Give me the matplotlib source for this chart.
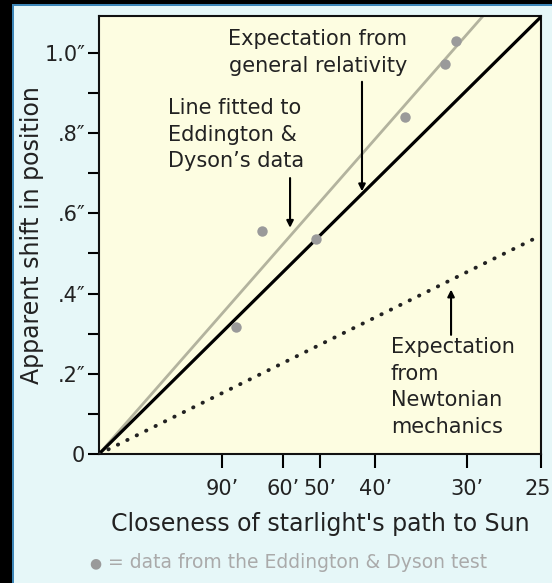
import matplotlib.pyplot as plt
import numpy as np
from matplotlib.patches import Rectangle

# distance of the starlight's path from the Sun (arc minutes) -> closeness = 1/d
tick_minutes = [90, 60, 50, 40, 30, 25]
tick_labels = ["90\u2019", "60\u2019", "50\u2019", "40\u2019", "30\u2019", "25\u2019"]

# apparent shift in arcsec at the right-hand edge (closeness 1/25')
line_x = [0, 1 / 25]
relativity_y = [0, 1.09]
newton_y = [0, 0.545]
fitted_y = [0, 1.257]

# Eddington & Dyson data points
data_x = [0.0124, 0.01475, 0.01964, 0.0277, 0.0313, 0.0323]
data_y = [0.317, 0.556, 0.536, 0.840, 0.973, 1.030]

y_major = [0, 0.2, 0.4, 0.6, 0.8, 1.0]
y_labels = ["0", ".2\u2033", ".4\u2033", ".6\u2033", ".8\u2033", "1.0\u2033"]

W, H = 552, 583
fig = plt.figure(figsize=(W / 100, H / 100), dpi=100)
fig.patch.set_facecolor('#e6f7f8')

# dark frame on the left and top
fig.patches.append(Rectangle((0, 0), 12 / W, 1, transform=fig.transFigure,
                             facecolor='black', edgecolor='none'))
fig.patches.append(Rectangle((0, 1 - 4 / H), 1, 4 / H, transform=fig.transFigure,
                             facecolor='black', edgecolor='none'))
fig.patches.append(Rectangle((12 / W, 0), 1.5 / W, 1 - 4 / H, transform=fig.transFigure,
                             facecolor='#3d86b8', edgecolor='none'))
fig.patches.append(Rectangle((12 / W, 1 - 5.5 / H), 1, 1.5 / H, transform=fig.transFigure,
                             facecolor='#3d86b8', edgecolor='none'))

ax = fig.add_axes([99 / W, (H - 454) / H, (541 - 99) / W, (454 - 16) / H])
ax.set_facecolor('#fdfde1')

ax.plot(line_x, fitted_y, color='#b3b39e', linewidth=2, zorder=2)
ax.plot(line_x, relativity_y, color='black', linewidth=2.3, zorder=3)
ax.plot(line_x, newton_y, color='#222222', linewidth=2.8,
        linestyle=(0, (0.1, 2.6)), dash_capstyle='round', zorder=3)
ax.plot(data_x, data_y, 'o', color='#9a9a9a', markersize=7.5, markeredgewidth=0, zorder=4)

ax.set_xlim(0, 1 / 25)
ax.set_ylim(0, 1.092)

ax.set_xticks([1 / m for m in tick_minutes])
ax.set_xticklabels(tick_labels, fontsize=15, color='#222222')
ax.set_yticks(y_major)
ax.set_yticklabels(y_labels, fontsize=15, color='#222222')
ax.set_yticks(np.arange(0.1, 1.1, 0.2), minor=True)

for s in ax.spines.values():
    s.set_linewidth(1.5)
    s.set_color('#111111')
ax.tick_params(axis='x', direction='out', length=10, width=1.5, pad=8)
ax.tick_params(axis='y', which='both', direction='out', length=8, width=1.5, pad=2)

ax.set_ylabel("Apparent shift in position", fontsize=17, color='#222222', labelpad=0)
ax.set_xlabel("Closeness of starlight's path to Sun", fontsize=17, color='#222222', labelpad=9)

txt = dict(fontsize=15, color='#222222', linespacing=1.42)
arrow = dict(arrowstyle='-|>', color='black', lw=1.5, mutation_scale=10, shrinkA=0, shrinkB=0)

ax.annotate("", xy=(0.0238, 0.655), xytext=(0.0238, 0.928), arrowprops=arrow)
ax.text(0.0198, 1.06, "Expectation from\ngeneral relativity", ha='center', va='top', **txt)

ax.annotate("", xy=(0.01729, 0.564), xytext=(0.01729, 0.688), arrowprops=arrow)
ax.text(0.0062, 0.888, "Line fitted to\nEddington &\nDyson\u2019s data", ha='left', va='top', **txt)

ax.annotate("", xy=(0.03186, 0.41), xytext=(0.03186, 0.297), arrowprops=arrow)
ax.text(0.0264, 0.292, "Expectation\nfrom\nNewtonian\nmechanics", ha='left', va='top', **txt)

fig.text(89 / W, 1 - 563 / H, "\u25cf", fontsize=10, color='#9a9a9a', va='center')
fig.text(108 / W, 1 - 563 / H, "= data from the Eddington & Dyson test",
         fontsize=13.5, color='#aaaaaa', va='center')

fig.savefig('out.png', dpi=100, facecolor=fig.get_facecolor())
